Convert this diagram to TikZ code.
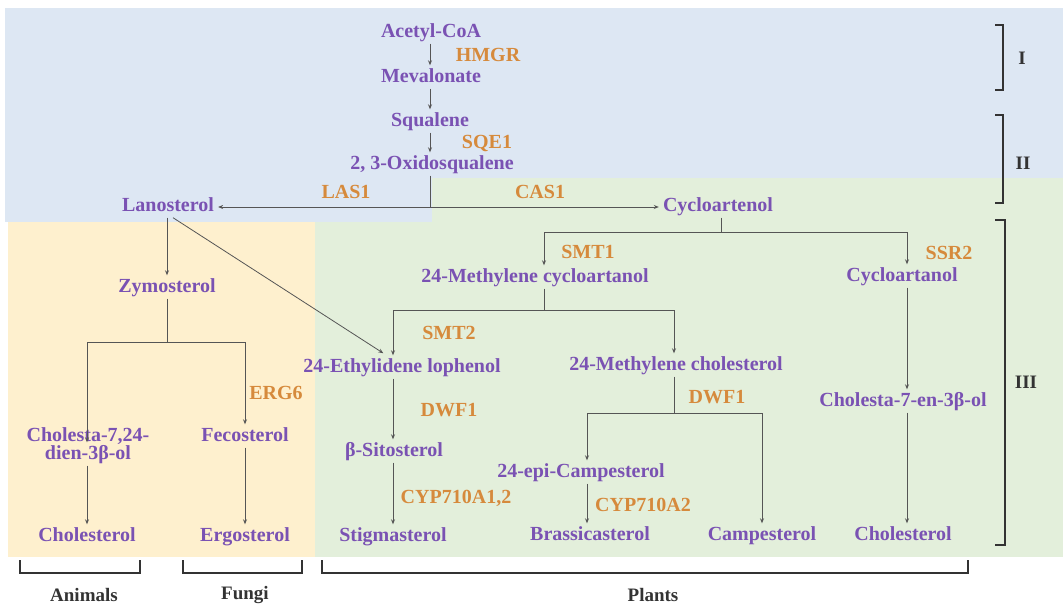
\documentclass[tikz,border=0pt]{standalone}
\usepackage{fontspec}
\setmainfont{Liberation Serif}
\usetikzlibrary{arrows.meta}
\definecolor{bgblue}{HTML}{DDE7F3}
\definecolor{bggreen}{HTML}{E3EFDB}
\definecolor{bgyellow}{HTML}{FEF0CE}
\definecolor{cpurple}{HTML}{7A52B3}
\definecolor{corange}{HTML}{D68A3C}
\definecolor{cline}{HTML}{555555}
\definecolor{cdark}{HTML}{333333}
\tikzset{
  cmp/.style={text=cpurple, font=\fontsize{20}{20}\selectfont\bfseries, inner sep=2pt, text height=13pt, text depth=4pt, align=center},
  enz/.style={text=corange, font=\fontsize{20}{20}\selectfont\bfseries, inner sep=2pt},
  lbl/.style={text=cdark, font=\fontsize{19}{20}\selectfont\bfseries, inner sep=2pt},
  conn/.style={draw=cline, line width=0.8pt},
  arr/.style={conn, -{Stealth[length=5pt,width=4pt]}, shorten >=2pt},
  brk/.style={draw=cdark, line width=1.3pt},
}
\begin{document}
\begin{tikzpicture}[x=1pt,y=-1pt]
\useasboundingbox (0,0) rectangle (1063,605);
% backgrounds
\fill[bgblue] (5,8) rectangle (1063,178);
\fill[bgblue] (5,178) rectangle (432,222);
\fill[bggreen] (432,178) rectangle (1063,222);
\fill[bggreen] (315,222) rectangle (1063,557);
\fill[bgyellow] (8,222) rectangle (315,557);
% helper x positions
\coordinate (xa) at (544,0);
\coordinate (xb) at (393,0);
\coordinate (xc) at (674,0);
\coordinate (xd) at (587,0);
\coordinate (xe) at (762,0);
\coordinate (xr) at (907,0);
\coordinate (xm) at (430,0);
\coordinate (xl) at (87,0);
% stage I/II
\node[cmp] (acetyl) at (431,33) {Acetyl-CoA};
\node[enz] (hmgr) at (488,55) {HMGR};
\node[cmp] (meval) at (431,78) {Mevalonate};
\node[cmp] (squal) at (430,122) {Squalene};
\node[enz] (sqe) at (487,143) {SQE1};
\node[cmp] (oxi) at (432,165) {2, 3-Oxidosqualene};
\node[enz] (las) at (346,192) {LAS1};
\node[enz] (cas) at (540,192) {CAS1};
\node[cmp] (lano) at (168,207) {Lanosterol};
\node[cmp] (cycloe) at (718,207) {Cycloartenol};
\coordinate (j1) at (430,207);
\draw[arr] (acetyl.south -| xm) -- (meval.north -| xm);
\draw[arr] (meval.south -| xm) -- (squal.north -| xm);
\draw[arr] (squal.south -| xm) -- (oxi.north -| xm);
\draw[conn] (oxi.south -| xm) -- (j1);
\draw[arr] (j1) -- (lano.east);
\draw[arr] (j1) -- (cycloe.west);
% animals / fungi
\node[cmp] (zymo) at (167,288) {Zymosterol};
\node[cmp] (chol1) at (88,455) {Cholesta-7,24-\\[-2pt]dien-3β-ol};
\node[cmp] (feco) at (245,437) {Fecosterol};
\node[enz] (erg) at (276,393) {ERG6};
\node[cmp] (cholA) at (87,537) {Cholesterol};
\node[cmp] (ergo) at (245,537) {Ergosterol};
\coordinate (zj) at (167,342);
\draw[arr] (lano.south -| zymo) -- (zymo.north);
\draw[conn] (zymo.south) -- (zj);
\draw[arr] (zj) -| (chol1.north -| xl);
\draw[arr] (zj) -| (feco.north);
\draw[arr] (chol1.south -| xl) -- (cholA.north -| xl);
\draw[arr] (feco.south) -- (ergo.north);
% plants
\node[enz] (smt1) at (588,252) {SMT1};
\node[cmp] (mcyc) at (535,278) {24-Methylene cycloartanol};
\node[enz] (ssr) at (949,253) {SSR2};
\node[cmp] (cana) at (902,277) {Cycloartanol};
\node[enz] (smt2) at (449,333) {SMT2};
\node[cmp] (ethyl) at (402,368) {24-Ethylidene lophenol};
\node[cmp] (mchol) at (676,366) {24-Methylene cholesterol};
\node[cmp] (c7) at (903,402) {Cholesta-7-en-3β-ol};
\node[enz] (dwfa) at (449,410) {DWF1};
\node[enz] (dwfb) at (717,397) {DWF1};
\node[cmp] (sito) at (394,452) {β-Sitosterol};
\node[cmp] (epi) at (581,473) {24-epi-Campesterol};
\node[enz] (cyp1) at (456,498) {CYP710A1,2};
\node[enz] (cyp2) at (643,505) {CYP710A2};
\node[cmp] (stig) at (393,537) {Stigmasterol};
\node[cmp] (brass) at (590,536) {Brassicasterol};
\node[cmp] (camp) at (762,536) {Campesterol};
\node[cmp] (cholP) at (903,536) {Cholesterol};
\coordinate (cj) at (721,232);
\coordinate (mj) at (544,310);
\coordinate (dj) at (674,413);
\draw[conn] (cycloe.south -| cj) -- (cj);
\draw[arr] (cj) -| (mcyc.north -| xa);
\draw[arr] (cj) -| (cana.north -| xr);
\draw[arr] (cana.south -| xr) -- (c7.north -| xr);
\draw[arr] (c7.south -| xr) -- (cholP.north -| xr);
\draw[conn] (mcyc.south -| mj) -- (mj);
\draw[arr] (mj) -| (ethyl.north -| xb);
\draw[arr] (mj) -| (mchol.north -| xc);
\draw[arr] ([xshift=5pt]lano.south) -- ([xshift=-17pt,yshift=3pt]ethyl.north);
\draw[arr] (ethyl.south -| xb) -- (sito.north -| xb);
\draw[arr] (sito.south -| xb) -- (stig.north -| xb);
\draw[conn] (mchol.south -| dj) -- (dj);
\draw[arr] (dj) -| (epi.north -| xd);
\draw[arr] (dj) -| (camp.north -| xe);
\draw[arr] (epi.south -| xd) -- (brass.north -| xd);
% stage brackets
\draw[brk] (995,25) -- (1003,25) -- (1003,90) -- (995,90);
\draw[brk] (995,115) -- (1003,115) -- (1003,203) -- (995,203);
\draw[brk] (995,220) -- (1005,220) -- (1005,545) -- (995,545);
\node[lbl] (s1) at (1022,58) {I};
\node[lbl] (s2) at (1023,163) {II};
\node[lbl] (s3) at (1026,382) {III};
% kingdom brackets
\draw[brk] (20,560) -- (20,573) -- (140,573) -- (140,560);
\draw[brk] (183,560) -- (183,573) -- (302,573) -- (302,560);
\draw[brk] (322,560) -- (322,573) -- (968,573) -- (968,560);
\node[lbl] (animals) at (84,595) {Animals};
\node[lbl] (fungi) at (245,595) {Fungi};
\node[lbl] (plants) at (653,595) {Plants};
\end{tikzpicture}
\end{document}
